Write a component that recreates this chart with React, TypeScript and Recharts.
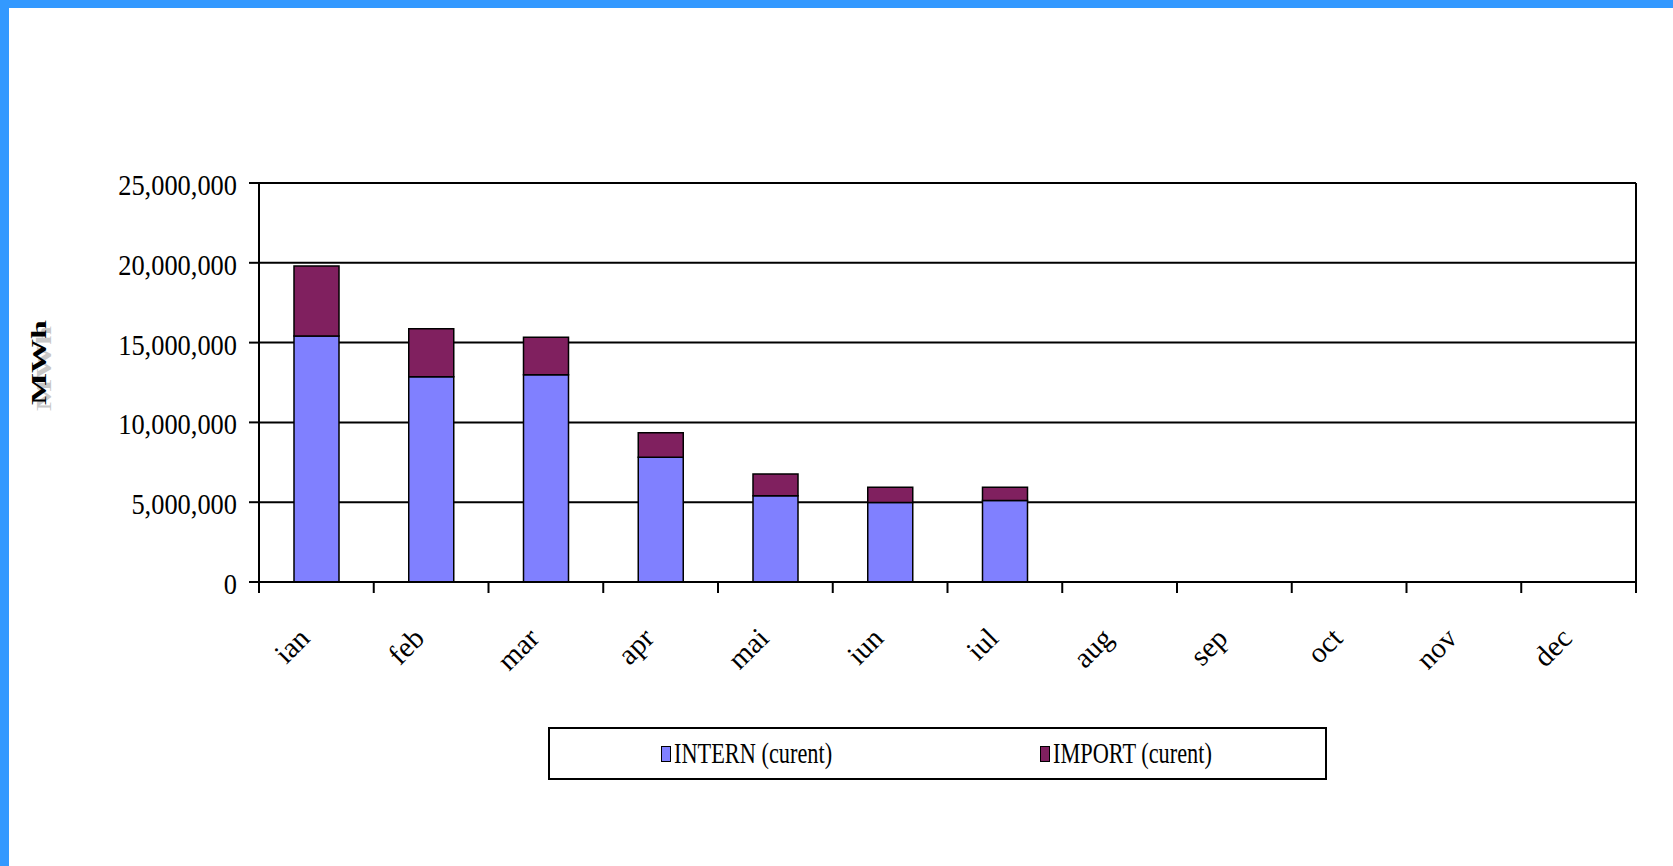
import React from "react";
import { BarChart, Bar, XAxis, YAxis, CartesianGrid, Legend } from "recharts";

const MONTHS = ["ian", "feb", "mar", "apr", "mai", "iun", "iul", "aug", "sep", "oct", "nov", "dec"];
const INTERN = [15420000, 12860000, 12980000, 7810000, 5400000, 4980000, 5100000, null, null, null, null, null];
const IMPORT = [4380000, 3000000, 2350000, 1540000, 1360000, 960000, 840000, null, null, null, null, null];
const Y_TICKS = [0, 5000000, 10000000, 15000000, 20000000, 25000000];
const SERIES_NAMES = ["INTERN (curent)", "IMPORT (curent)"];
const SERIES_COLORS = ["#8080FF", "#80205F"];

const SERIF = '"Liberation Serif", "Times New Roman", serif';

const data = MONTHS.map((m, i) => ({ month: m, intern: INTERN[i], import: IMPORT[i] }));

const fmt = (v: number) => v.toLocaleString("en-US");

const YTick = (props: any) => {
  const { x, y, payload } = props;
  return (
    <text
      transform={`translate(${x},${y}) scale(0.88,1)`}
      textAnchor="end"
      dy={12}
      fontSize={30}
      fontFamily={SERIF}
      fill="#000"
    >
      {fmt(payload.value)}
    </text>
  );
};

// month label, plus tick marks on the category boundaries (Excel style)
const XTick = (props: any) => {
  const { x, y, payload, index } = props;
  const half = payload.offset || 0;
  const ax = x - 5;
  const ay = y + 58;
  return (
    <g>
      <line x1={x - half} x2={x - half} y1={y} y2={y + 11} stroke="#000" strokeWidth={2} />
      {index === MONTHS.length - 1 && (
        <line x1={x + half} x2={x + half} y1={y} y2={y + 11} stroke="#000" strokeWidth={2} />
      )}
      <text
        x={ax}
        y={ay}
        transform={`rotate(-45, ${ax}, ${ay})`}
        textAnchor="end"
        fontSize={29}
        fontFamily={SERIF}
        fill="#000"
      >
        {payload.value}
      </text>
    </g>
  );
};

const UnitLabel = (props: any) => {
  const { viewBox } = props;
  const x = viewBox.x + 46;
  const y = viewBox.y + viewBox.height / 2 - 20;
  return (
    <g fontFamily={SERIF} fontSize={20} fontWeight="bold">
      <text transform={`translate(${x + 5},${y + 6}) rotate(-90) scale(1.7,1)`} textAnchor="middle" fill="#c8c8c8">
        MWh
      </text>
      <text transform={`translate(${x},${y}) rotate(-90) scale(1.7,1)`} textAnchor="middle" fill="#000">
        MWh
      </text>
    </g>
  );
};

const renderLegend = () => (
  <div
    style={{
      boxSizing: "border-box",
      width: 779,
      height: 53,
      border: "2px solid #000",
      background: "#fff",
      display: "flex",
      alignItems: "center",
      paddingLeft: 111,
      overflow: "hidden",
      fontFamily: SERIF,
    }}
  >
    {SERIES_NAMES.map((name, i) => (
      <div key={name} style={{ width: 379, flexShrink: 0, display: "flex", alignItems: "center" }}>
        <span
          style={{
            display: "inline-block",
            boxSizing: "border-box",
            width: 10,
            height: 16,
            flexShrink: 0,
            background: SERIES_COLORS[i],
            border: "1.5px solid #000",
            marginRight: 3,
          }}
        />
        <span
          style={{
            display: "inline-block",
            fontSize: 29,
            lineHeight: 1,
            color: "#000",
            whiteSpace: "nowrap",
            transform: "scaleX(0.77)",
            transformOrigin: "left center",
          }}
        >
          {name}
        </span>
      </div>
    ))}
  </div>
);

export default function App() {
  return (
    <div style={{ position: "absolute", left: 0, top: 0, width: 1673, height: 866, background: "#fff", overflow: "hidden" }}>
      <div style={{ position: "absolute", left: 0, top: 0 }}>
        <BarChart
          width={1673}
          height={866}
          data={data}
          margin={{ top: 183, right: 36, bottom: 172, left: 0 }}
        >
          <CartesianGrid vertical={false} stroke="#000" strokeWidth={2} />
          <XAxis
            dataKey="month"
            interval={0}
            tickLine={false}
            axisLine={{ stroke: "#000", strokeWidth: 2 }}
            tickSize={0}
            tickMargin={0}
            height={112}
            tick={<XTick />}
          />
          <YAxis
            domain={[0, 25000000]}
            ticks={Y_TICKS}
            interval={0}
            width={259}
            tickSize={10}
            tickMargin={12}
            tick={<YTick />}
            tickLine={{ stroke: "#000", strokeWidth: 2 }}
            axisLine={{ stroke: "#000", strokeWidth: 2 }}
            label={{ content: <UnitLabel /> }}
          />
          <YAxis
            yAxisId="right"
            orientation="right"
            domain={[0, 25000000]}
            ticks={Y_TICKS}
            tick={false}
            tickLine={false}
            axisLine={{ stroke: "#000", strokeWidth: 2 }}
            width={1}
          />
          <Legend
            layout="horizontal"
            verticalAlign="middle"
            align="center"
            content={renderLegend}
            wrapperStyle={{ position: "absolute", left: 548, top: 727, width: 779, height: 53 }}
          />
          <Bar
            dataKey="intern"
            name={SERIES_NAMES[0]}
            stackId="a"
            fill={SERIES_COLORS[0]}
            stroke="#000"
            strokeWidth={1.5}
            barSize={45}
            isAnimationActive={false}
          />
          <Bar
            dataKey="import"
            name={SERIES_NAMES[1]}
            stackId="a"
            fill={SERIES_COLORS[1]}
            stroke="#000"
            strokeWidth={1.5}
            barSize={45}
            isAnimationActive={false}
          />
        </BarChart>
      </div>
      <div style={{ position: "absolute", left: 0, top: 0, width: 1673, height: 8, background: "#3399FF" }} />
      <div style={{ position: "absolute", left: 0, top: 0, width: 9, height: 866, background: "#3399FF" }} />
    </div>
  );
}
